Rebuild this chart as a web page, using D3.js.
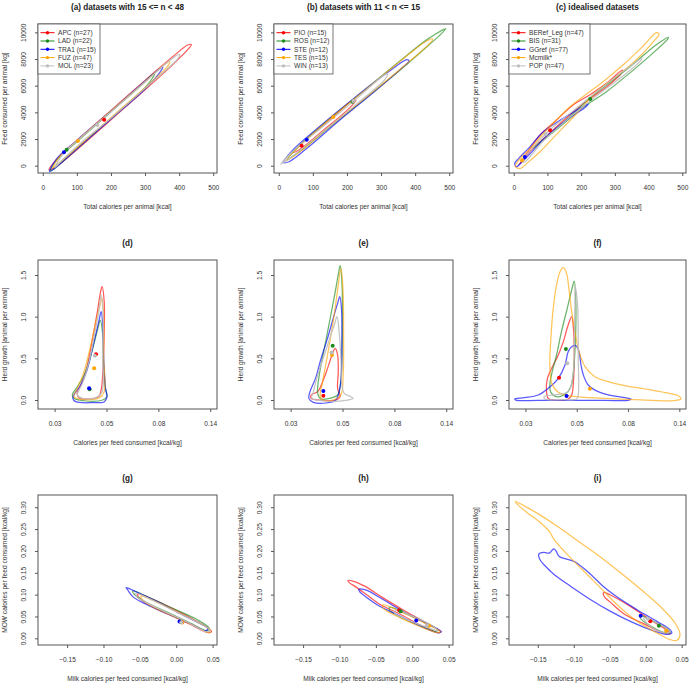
<!DOCTYPE html>
<html>
<head>
<meta charset="utf-8">
<script src="https://cdn.jsdelivr.net/npm/d3@7"></script>
<style>
body { margin: 0; background: #fff; }
text { font-family: "Liberation Sans", Arial, Helvetica, sans-serif; }
</style>
</head>
<body>
<script>
// series colours, in the order red, green, blue, orange, grey
const colors = ["#ff0000", "#1a8a1a", "#0000ff", "#ffa500", "#bebebe"];

const titles = ["(a) datasets with 15 <= n < 48", "(b) datasets with 11 < n <= 15", "(c) idealised datasets",
                "(d)", "(e)", "(f)", "(g)", "(h)", "(i)"];
const legendA = ["APC (n=27)", "LAD (n=22)", "TRA1 (n=15)", "FUZ (n=47)", "MOL (n=23)"];
const legendB = ["PIO (n=15)", "ROS (n=12)", "STE (n=12)", "TES (n=15)", "WIN (n=13)"];
const legendC = ["BERef_Leg (n=47)", "BIS (n=31)", "GGref (n=77)", "Mcmilk*", "POP (n=47)"];

const xLabels = ["Total calories per animal [kcal]", "Calories per feed consumed [kcal/kg]", "Milk calories per feed consumed [kcal/kg]"];
const yLabels = ["Feed consumed per animal [kg]", "Herd growth [animal per animal]", "MOW calories per feed consumed [kcal/kg]"];

const xTicks = [[0, 100, 200, 300, 400, 500], [0.0302, 0.0498, 0.0821, 0.1353], [-0.15, -0.10, -0.05, 0.00, 0.05]];
const xTickText = [["0", "100", "200", "300", "400", "500"], ["0.03", "0.05", "0.08", "0.14"], ["\u22120.15", "\u22120.10", "\u22120.05", "0.00", "0.05"]];
const yTicks = [[0, 2000, 4000, 6000, 8000, 10000], [0, 0.5, 1, 1.5], [0, 0.05, 0.10, 0.15, 0.20, 0.25, 0.30]];
const yTickText = [["0", "2000", "4000", "6000", "8000", "10000"], ["0.0", "0.5", "1.0", "1.5"], ["0.00", "0.05", "0.10", "0.15", "0.20", "0.25", "0.30"]];

// ---- row 1: feed vs total calories
const contoursA = [
  [[18,-300],[40,450],[100,1900],[200,4150],[300,6400],[380,8150],[425,9050],[436,9080],[425,8700],[380,7550],[300,5700],[200,3450],[100,1200],[40,-50]],
  [[22,-400],[40,400],[100,1800],[200,4050],[300,6300],[322,6850],[328,6900],[320,6500],[300,5850],[200,3550],[100,1300],[40,-100]],
  [[20,-420],[40,500],[100,1900],[200,4100],[300,6350],[345,7300],[352,7380],[345,7050],[300,5750],[200,3500],[100,1250],[40,-100]],
  [[30,-150],[50,700],[100,1850],[200,4100],[300,6300],[360,7650],[372,7820],[368,7500],[300,5850],[200,3600],[100,1350],[50,250]],
  [[35,-150],[60,900],[120,2300],[200,4050],[300,6300],[380,8050],[402,8350],[395,8000],[300,5800],[200,3550],[120,1900],[60,500]]
];
const meansA = [[180,3450],[70,1200],[62,1000],[103,1850],[160,3050]];

const contoursB = [
  [[42,1000],[80,1950],[150,3450],[222,4980],[226,4900],[200,4150],[130,2650],[60,1200]],
  [[25,450],[60,1500],[150,3550],[250,5650],[350,7750],[440,9550],[490,10270],[475,9850],[440,9050],[350,7050],[250,4950],[150,2900],[60,1050]],
  [[14,250],[40,1150],[120,2950],[220,5050],[320,7000],[376,7950],[382,7850],[360,7300],[280,5550],[180,3450],[80,1250],[30,300]],
  [[20,350],[60,1450],[150,3500],[250,5600],[350,7700],[430,9300],[452,9500],[440,9100],[350,7100],[250,5000],[150,2950],[60,1000]],
  [[6,100],[40,1050],[120,2750],[220,4850],[312,6850],[319,6880],[312,6500],[220,4450],[120,2350],[40,700]]
];
const meansB = [[67,1500],[217,4800],[82,1950],[160,3650],[219,4850]];

const contoursC = [
  [[15,50],[39,925],[78,2300],[127,3425],[176,4550],[225,5300],[275,6175],[322,7175],[319,6925],[275,5900],[216,4850],[157,3600],[98,2250],[49,1100],[20,175]],
  [[57,1300],[98,2175],[167,3675],[225,5050],[294,6400],[363,7800],[422,9050],[459,9625],[456,9475],[412,8425],[343,6925],[275,5550],[206,4375],[137,2925],[78,1725]],
  [[3,175],[15,550],[44,1300],[88,2550],[147,3550],[221,4625],[214,4425],[157,3425],[98,2225],[54,1050],[25,300],[8,-75]],
  [[5,-75],[15,425],[49,1300],[98,2675],[167,4425],[216,5375],[265,6300],[324,7550],[382,8925],[424,9975],[431,9875],[417,9375],[363,7925],[304,6675],[245,5550],[186,3900],[127,2350],[78,1050],[39,175],[20,-200]],
  [[25,300],[98,2475],[167,3925],[265,5925],[343,7425],[380,8050],[374,7800],[324,6725],[245,5225],[167,3625],[88,1875],[34,300]]
];
const meansC = [[108,2650],[227,5000],[33,650],[25,400],[95,2350]];

// ---- row 2: herd growth vs calories per feed
const contoursD = [
  [[0.0477,1.36],[0.0487,1.18],[0.0487,0.82],[0.0482,0.42],[0.0474,0.14],[0.0462,0.04],[0.0421,0.012],[0.0382,0.028],[0.0375,0.08],[0.0392,0.2],[0.0411,0.38],[0.0433,0.7],[0.0456,1.06],[0.0469,1.28]],
  [[0.0469,0.96],[0.048,0.78],[0.0484,0.42],[0.0493,0.14],[0.05,0.04],[0.048,0.0],[0.0408,-0.012],[0.0364,0.02],[0.0358,0.06],[0.0372,0.14],[0.0395,0.26],[0.0421,0.46],[0.0447,0.74],[0.0462,0.9]],
  [[0.0473,1.06],[0.048,0.9],[0.0484,0.54],[0.0493,0.14],[0.05,0.04],[0.0488,-0.02],[0.0435,-0.032],[0.037,-0.02],[0.036,0.02],[0.0367,0.08],[0.0388,0.18],[0.0411,0.34],[0.0435,0.62],[0.0462,0.94]],
  [[0.0476,1.22],[0.0484,1.02],[0.0484,0.54],[0.0487,0.1],[0.0465,0.028],[0.0395,0.008],[0.0364,0.04],[0.0376,0.14],[0.0401,0.34],[0.0428,0.66],[0.0453,0.98],[0.0468,1.14]],
  [[0.0473,1.26],[0.0482,1.02],[0.048,0.54],[0.0477,0.1],[0.045,0.028],[0.0395,0.02],[0.0376,0.06],[0.0395,0.2],[0.0421,0.46],[0.0443,0.78],[0.0462,1.06]]
];
const meansD = [[0.045,0.55],[0.0423,0.13],[0.0421,0.14],[0.0442,0.38],[0.0445,0.53]];

const contoursE = [
  [[0.0464,0.62],[0.0475,0.54],[0.0478,0.34],[0.0475,0.14],[0.0487,0.04],[0.0467,0.0],[0.0398,0.0],[0.0368,0.02],[0.0368,0.06],[0.0392,0.1],[0.0411,0.22],[0.0431,0.38],[0.045,0.54]],
  [[0.0487,1.612],[0.0495,1.42],[0.0498,1.02],[0.0495,0.54],[0.049,0.22],[0.0475,0.06],[0.0438,0.02],[0.0405,0.012],[0.0392,0.08],[0.0398,0.3],[0.0418,0.62],[0.0445,1.02],[0.0467,1.34],[0.0479,1.52]],
  [[0.0485,1.24],[0.0493,1.1],[0.0495,0.7],[0.0492,0.3],[0.0482,0.1],[0.0467,0.0],[0.0425,-0.036],[0.0376,-0.028],[0.036,0.02],[0.0364,0.1],[0.0384,0.26],[0.0405,0.5],[0.0431,0.74],[0.0455,0.98],[0.0475,1.16]],
  [[0.049,1.58],[0.05,1.34],[0.0503,0.82],[0.0501,0.3],[0.049,0.06],[0.0453,0.0],[0.0414,-0.004],[0.0402,0.04],[0.0411,0.22],[0.0431,0.54],[0.0455,0.94],[0.0476,1.34]],
  [[0.0472,1.0],[0.0482,0.82],[0.049,0.5],[0.0495,0.18],[0.0506,0.08],[0.0539,0.04],[0.0551,0.02],[0.0514,-0.004],[0.0425,-0.012],[0.0371,0.02],[0.0376,0.1],[0.0392,0.3],[0.0418,0.54],[0.0445,0.78],[0.046,0.9]]
];
const meansE = [[0.0414,0.052],[0.0453,0.65],[0.0414,0.108],[0.045,0.54],[0.0448,0.57]];

const contoursF = [
  [[0.0474,1.0],[0.0482,0.86],[0.0486,0.54],[0.0482,0.22],[0.0474,0.06],[0.0458,0.012],[0.0402,0.0],[0.0377,0.02],[0.0371,0.1],[0.0374,0.26],[0.039,0.38],[0.0416,0.54],[0.0437,0.7],[0.0458,0.9]],
  [[0.0486,1.428],[0.0493,1.22],[0.0494,0.94],[0.049,0.62],[0.0482,0.34],[0.047,0.16],[0.0444,0.068],[0.0409,0.04],[0.0387,0.092],[0.0383,0.18],[0.0392,0.34],[0.0409,0.54],[0.0429,0.82],[0.0454,1.1],[0.0474,1.32]],
  [[0.0272,0.012],[0.03,0.028],[0.0342,0.06],[0.0377,0.14],[0.0416,0.26],[0.0444,0.42],[0.0458,0.58],[0.0474,0.64],[0.0493,0.652],[0.0509,0.58],[0.0519,0.42],[0.0531,0.3],[0.0557,0.18],[0.0614,0.1],[0.07,0.052],[0.0797,0.028],[0.0845,0.012],[0.0823,-0.004],[0.0656,-0.004],[0.0474,-0.004],[0.0342,-0.004],[0.0275,-0.002]],
  [[0.0437,1.588],[0.0451,1.52],[0.0461,1.34],[0.0474,1.06],[0.0489,0.82],[0.0509,0.58],[0.054,0.4],[0.0594,0.28],[0.0677,0.22],[0.0797,0.172],[0.0969,0.132],[0.1179,0.088],[0.1343,0.048],[0.1374,0.012],[0.1279,-0.008],[0.1035,-0.004],[0.0823,0.008],[0.0656,0.02],[0.054,0.032],[0.0458,0.052],[0.0416,0.092],[0.039,0.2],[0.0383,0.42],[0.0387,0.74],[0.0396,1.1],[0.0409,1.38],[0.0423,1.54]],
  [[0.049,1.36],[0.0502,1.14],[0.0505,0.54],[0.0505,0.06],[0.0497,0.012],[0.0443,0.004],[0.0365,0.012],[0.0362,0.04],[0.039,0.06],[0.0458,0.1],[0.0482,0.34],[0.0486,0.74],[0.0489,1.14]]
];
const meansF = [[0.0419,0.268],[0.0448,0.612],[0.0451,0.048],[0.0566,0.136],[0.0454,0.44]];

// ---- row 3: MOW calories vs milk calories per feed
const contoursG = [
  [[-0.053,0.1015],[-0.0324,0.0893],[-0.0049,0.0679],[0.0225,0.0443],[0.0454,0.0214],[0.0486,0.0153],[0.0445,0.013],[0.018,0.0328],[-0.0095,0.0542],[-0.037,0.0756],[-0.0516,0.0939]],
  [[-0.0598,0.1084],[-0.037,0.0931],[-0.0049,0.0687],[0.0279,0.0435],[0.0453,0.0229],[0.0426,0.0176],[0.018,0.0359],[-0.0141,0.0611],[-0.0415,0.0824],[-0.0576,0.1008]],
  [[-0.069,0.116],[-0.0507,0.103],[-0.0232,0.0817],[0.0042,0.0573],[0.0317,0.0344],[0.0431,0.0229],[0.0408,0.0176],[0.018,0.0344],[-0.0141,0.0573],[-0.0415,0.0779],[-0.0598,0.0954],[-0.0667,0.1107]],
  [[-0.0484,0.0969],[-0.0278,0.084],[0.0004,0.0611],[0.0279,0.0382],[0.0463,0.0191],[0.0454,0.013],[0.0225,0.0305],[-0.0049,0.0511],[-0.0324,0.0725],[-0.047,0.0893]],
  [[-0.0553,0.103],[-0.0278,0.0832],[0.0042,0.0573],[0.0363,0.0305],[0.0463,0.0191],[0.0431,0.0145],[0.0134,0.0389],[-0.0187,0.0634],[-0.0461,0.0863],[-0.0544,0.0954]]
];
const meansG = [[0.008,0.037],[0.006,0.038],[0.0045,0.0385],[0.008,0.036],[0.007,0.037]];

const contoursH = [
  [[-0.0885,0.1321],[-0.0805,0.1305],[-0.0641,0.1183],[-0.0406,0.0931],[-0.0124,0.0649],[0.0157,0.0382],[0.0392,0.0153],[0.0354,0.013],[0.011,0.0305],[-0.0171,0.0557],[-0.0453,0.0786],[-0.0641,0.1015],[-0.0782,0.1183],[-0.0866,0.1275]],
  [[-0.0312,0.071],[-0.0077,0.0557],[0.0204,0.0344],[0.0354,0.0191],[0.0322,0.016],[0.0063,0.0321],[-0.0195,0.0511],[-0.0312,0.0649]],
  [[-0.0735,0.1122],[-0.0641,0.1107],[-0.0406,0.0893],[-0.0124,0.0611],[0.0157,0.0374],[0.0401,0.0153],[0.0369,0.0122],[0.011,0.0282],[-0.0171,0.0511],[-0.0453,0.074],[-0.0641,0.0954],[-0.0721,0.1061]],
  [[-0.0406,0.0763],[-0.0124,0.0588],[0.0157,0.0359],[0.0383,0.0153],[0.0345,0.013],[0.0087,0.0282],[-0.0195,0.0496],[-0.0397,0.0687]],
  [[-0.0218,0.0649],[0.0016,0.0496],[0.0298,0.0267],[0.0345,0.0176],[0.0204,0.0252],[-0.0077,0.0435],[-0.0242,0.0573]]
];
const meansH = [[-0.018,0.064],[-0.016,0.062],[0.0055,0.0405],[0.023,0.029],[0.02,0.03]];

const contoursI = [
  [[-0.058,0.1051],[-0.0498,0.0998],[-0.0213,0.0731],[0.0063,0.0427],[0.0316,0.016],[0.0339,0.0107],[0.0247,0.0122],[-0.0029,0.0335],[-0.0305,0.0564],[-0.0489,0.0823],[-0.0571,0.0944],[-0.059,0.1013]],
  [[-0.0075,0.0518],[0.0109,0.0388],[0.0316,0.0198],[0.0339,0.0137],[0.0247,0.0137],[0.0063,0.0289],[-0.0066,0.0442]],
  [[-0.1486,0.1927],[-0.1417,0.1965],[-0.1339,0.195],[-0.1279,0.2049],[-0.1247,0.2003],[-0.1201,0.1874],[-0.0994,0.1759],[-0.081,0.1531],[-0.058,0.1173],[-0.0397,0.0944],[-0.0121,0.0655],[0.0155,0.0388],[0.0339,0.0198],[0.0362,0.0122],[0.0293,0.0091],[0.0063,0.0198],[-0.0213,0.0388],[-0.0489,0.0617],[-0.0764,0.0883],[-0.104,0.1188],[-0.127,0.1455],[-0.1399,0.166],[-0.1468,0.1797]],
  [[-0.1813,0.313],[-0.1546,0.29],[-0.1224,0.256],[-0.0902,0.218],[-0.058,0.18],[-0.0259,0.138],[0.0017,0.1],[0.0247,0.0655],[0.0408,0.035],[0.0477,0.0084],[0.0431,-0.0046],[0.0339,-0.003],[0.0155,0.0122],[-0.0121,0.0388],[-0.0397,0.0769],[-0.0626,0.115],[-0.081,0.1455],[-0.104,0.1835],[-0.127,0.2254],[-0.1339,0.2445],[-0.1454,0.2635],[-0.1638,0.2864],[-0.1776,0.3054]],
  [[-0.0029,0.0465],[0.0155,0.035],[0.0339,0.016],[0.027,0.0122],[0.0063,0.0274]]
];
const meansI = [[0.0063,0.0388],[0.0183,0.0289],[-0.007,0.0518],[0.0284,0.0175],[0.003,0.045]];

// ---- layout
const svg = d3.select("body").append("svg").attr("width", 692).attr("height", 685);
svg.append("rect").attr("width", 692).attr("height", 685).attr("fill", "#fff");

const colX = [[38, 217], [274, 453], [509, 686]];
const rowY = [[24, 173], [260, 409], [495, 645]];
const makeX = [
  () => d3.scaleLinear().domain([-14, 511]),
  () => d3.scaleLog().domain([0.02573, 0.1444]),
  () => d3.scaleLinear().domain([-0.19, 0.056])
];
const yDomains = [[-547, 10627], [-0.108, 1.68], [-0.0153, 0.328]];

const panels = [
  { contours: contoursA, means: meansA, legend: legendA, legW: 62 },
  { contours: contoursB, means: meansB, legend: legendB, legW: 59 },
  { contours: contoursC, means: meansC, legend: legendC, legW: 81 },
  { contours: contoursD, means: meansD },
  { contours: contoursE, means: meansE },
  { contours: contoursF, means: meansF },
  { contours: contoursG, means: meansG },
  { contours: contoursH, means: meansH },
  { contours: contoursI, means: meansI }
];

const small = 6.6;

panels.forEach((p, k) => {
  const row = Math.floor(k / 3), col = k % 3;
  const [x0, x1] = colX[col], [y0, y1] = rowY[row];
  const x = makeX[row]().range([x0, x1]);
  const y = d3.scaleLinear().domain(yDomains[row]).range([y1, y0]);
  const g = svg.append("g");

  g.append("clipPath").attr("id", "clip" + k)
    .append("rect").attr("x", x0).attr("y", y0).attr("width", x1 - x0).attr("height", y1 - y0);

  const line = d3.line()
    .x(d => x(d[0])).y(d => y(d[1]))
    .curve(d3.curveCatmullRomClosed.alpha(0.5));

  const plot = g.append("g").attr("clip-path", `url(#clip${k})`);
  plot.selectAll("path").data(p.contours).enter().append("path")
    .attr("d", line)
    .attr("fill", "none")
    .attr("stroke", (d, i) => colors[i])
    .attr("stroke-width", 1.25)
    .attr("stroke-opacity", (d, i) => i == 4 ? 0.9 : 0.65);

  plot.selectAll("circle").data(p.means).enter().append("circle")
    .attr("cx", d => x(d[0]))
    .attr("cy", d => y(d[1]))
    .attr("r", 2)
    .attr("fill", (d, i) => colors[i]);

  // box
  g.append("rect").attr("x", x0).attr("y", y0).attr("width", x1 - x0).attr("height", y1 - y0)
    .attr("fill", "none").attr("stroke", "#555").attr("stroke-width", 1);

  // x axis
  const xa = g.append("g").attr("transform", `translate(0,${y1})`)
    .call(d3.axisBottom(x).tickValues(xTicks[row]).tickSize(3).tickFormat((d, i) => xTickText[row][i]));
  xa.select(".domain").remove();
  xa.selectAll("line").attr("stroke", "#555");
  xa.selectAll("text").attr("y", 12.5).attr("font-size", small).attr("fill", "#333")
    .attr("font-family", "Liberation Sans, Arial, sans-serif");

  // y axis, labels parallel to the axis
  const ya = g.append("g").attr("transform", `translate(${x0},0)`)
    .call(d3.axisLeft(y).tickValues(yTicks[row]).tickSize(3).tickFormat((d, i) => yTickText[row][i]));
  ya.select(".domain").remove();
  ya.selectAll("line").attr("stroke", "#555");
  ya.selectAll("text")
    .attr("x", null).attr("dy", "0.35em")
    .attr("text-anchor", "middle")
    .attr("transform", "translate(-14,0) rotate(-90)")
    .attr("font-size", small).attr("fill", "#333")
    .attr("font-family", "Liberation Sans, Arial, sans-serif");

  // titles and axis names
  g.append("text").attr("x", (x0 + x1) / 2).attr("y", y0 - 14.5)
    .attr("text-anchor", "middle").attr("font-weight", "bold").attr("font-size", 8.2).attr("fill", "#222")
    .text(titles[k]);
  g.append("text").attr("x", (x0 + x1) / 2).attr("y", y1 + 36)
    .attr("text-anchor", "middle").attr("font-size", small).attr("fill", "#333")
    .text(xLabels[row]);
  g.append("text")
    .attr("transform", `translate(${x0 - 33},${(y0 + y1) / 2}) rotate(-90)`)
    .attr("dy", "0.35em")
    .attr("text-anchor", "middle").attr("font-size", small).attr("fill", "#333")
    .text(yLabels[row]);

  // legend
  if (p.legend) {
    const lg = g.append("g");
    lg.append("rect").attr("x", x0).attr("y", y0).attr("width", p.legW).attr("height", 50)
      .attr("fill", "#fff").attr("stroke", "#555").attr("stroke-width", 0.8);
    p.legend.forEach((t, i) => {
      const ly = y0 + 8.7 + i * 8.3;
      lg.append("line").attr("x1", x0 + 2.5).attr("x2", x0 + 16.5).attr("y1", ly).attr("y2", ly)
        .attr("stroke", colors[i]).attr("stroke-width", 1);
      lg.append("circle").attr("cx", x0 + 9.5).attr("cy", ly).attr("r", 1.7).attr("fill", colors[i]);
      lg.append("text").attr("x", x0 + 20).attr("y", ly).attr("dy", "0.35em")
        .attr("font-size", small).attr("fill", "#333").text(t);
    });
  }
});
</script>
</body>
</html>
